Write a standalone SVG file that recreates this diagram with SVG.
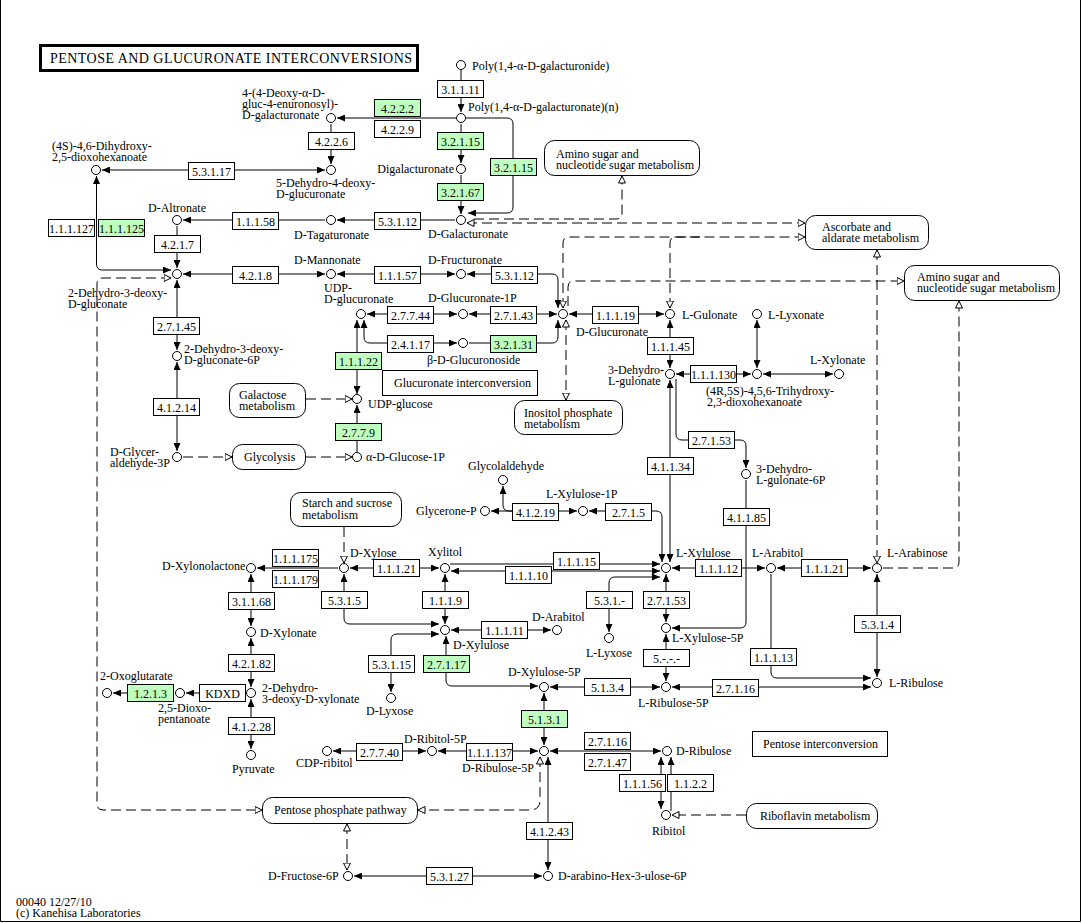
<svg xmlns="http://www.w3.org/2000/svg" width="1082" height="923" viewBox="0 0 1082 923">
<style>
text{font-family:"Liberation Serif","Times New Roman",serif;font-size:12px;fill:#000}
text.t{font-size:14px}
.e rect{fill:#fff;stroke:#000;stroke-width:1}
.e.g rect{fill:#bfffbf}
.e text{text-anchor:middle}
.c circle{fill:#fff;stroke:#000;stroke-width:1}
.m rect{fill:#fff;stroke:#000;stroke-width:1}
#connectors path{fill:none;stroke:#000;stroke-width:1}
#connectors .d{stroke-dasharray:10 5}
.b{marker-start:url(#a);marker-end:url(#a)}
.f{marker-end:url(#a)}
.ob{marker-start:url(#o);marker-end:url(#o)}
.of{marker-end:url(#o)}
.os{marker-start:url(#o)}
</style>
<defs>
<marker id="a" viewBox="0 0 8 7" refX="8" refY="3.5" markerWidth="8" markerHeight="7" markerUnits="userSpaceOnUse" orient="auto-start-reverse"><path d="M0,0L8,3.5L0,7z" fill="#000"/></marker>
<marker id="o" viewBox="0 0 8 8" refX="7.5" refY="4" markerWidth="8" markerHeight="8" markerUnits="userSpaceOnUse" orient="auto-start-reverse"><path d="M0.5,0.5L7.5,4L0.5,7.5z" fill="#fff" stroke="#000" stroke-width="1"/></marker>
</defs>
<rect x="0" y="0" width="1082" height="923" fill="#fff"/>
<path d="M0.5,0V921.5H1080.5V0" fill="none" stroke="#000" stroke-width="1"/>

<g id="title"><rect x="40.5" y="45.5" width="377" height="25" fill="#fff" stroke="#000" stroke-width="3"/><text class="t" x="50" y="63" textLength="362" lengthAdjust="spacing">PENTOSE AND GLUCURONATE INTERCONVERSIONS</text></g>
<g id="footer"><text x="16" y="906">00040 12/27/10<tspan x="16" dy="11">(c) Kanehisa Laboratories</tspan></text></g>

<g id="connectors">
<path class="f" d="M461,70V112"/>
<path class="f" d="M456,118H337"/>
<path class="f" d="M461,124V163"/>
<path class="f" d="M466,118H507Q513,118 513,124V207Q513,213 507,213H468"/>
<path class="f" d="M461,175V214"/>
<path class="f" d="M455,220H337"/>
<path class="f" d="M325,220H183"/>
<path class="f" d="M177,226V268"/>
<path class="f" d="M331,124V164"/>
<path class="b" d="M102,170H325"/>
<path class="b" d="M96.5,176V264Q96.5,270 102.5,270H171"/>
<path class="b" d="M183,274H325"/>
<path class="b" d="M337,274H455"/>
<path class="b" d="M467,274H552Q558,274 558,280V308"/>
<path class="b" d="M367,314H457"/>
<path class="b" d="M469,314H557"/>
<path class="b" d="M569,314H664"/>
<path class="b" d="M364,320V337Q364,343 370,343H457"/>
<path class="f" d="M469,343H552Q558,343 558,337V320"/>
<path class="b" d="M357,320V394"/>
<path class="f" d="M357,452V405"/>
<path class="b" d="M177,280V350"/>
<path class="b" d="M177,362V451"/>
<path class="b" d="M670,320V368"/>
<path class="b" d="M676,374H751"/>
<path class="b" d="M757,320V368"/>
<path class="b" d="M763,374H833"/>
<path class="b" d="M670,380V562"/>
<path class="f" d="M676,379V434Q676,440 682,440H740Q746,440 746,446V468"/>
<path class="f" d="M746,480V622Q746,628 740,628H672"/>
<path class="b" d="M491,511H577"/>
<path class="f" d="M512,511H509Q503,511 503,505V486"/>
<path class="b" d="M589,511H656Q662,511 662,517V562"/>
<path class="f" d="M338,568H257"/>
<path class="b" d="M350,568H439"/>
<path class="f" d="M450,564H660"/>
<path class="b" d="M451,571H660"/>
<path class="b" d="M660,577H615Q609,577 609,583V632"/>
<path class="b" d="M672,568H765"/>
<path class="b" d="M777,568H871"/>
<path class="f" d="M771,574V672Q771,678 777,678H871"/>
<path class="b" d="M877,574V677"/>
<path class="b" d="M672,687H871"/>
<path class="b" d="M666,574V622"/>
<path class="b" d="M666,634V681"/>
<path class="b" d="M550,687H660"/>
<path class="b" d="M344,574V618Q344,624 350,624H439"/>
<path class="b" d="M445,574V624"/>
<path class="b" d="M451,630H551"/>
<path class="b" d="M439,634H397Q391,634 391,640V692"/>
<path class="b" d="M446,636V680Q446,686 452,686H538"/>
<path class="b" d="M544,693V745"/>
<path class="b" d="M438,751H538"/>
<path class="b" d="M333,751H426"/>
<path class="b" d="M550,751H661"/>
<path class="b" d="M661,757V809"/>
<path class="f" d="M671,811V757"/>
<path class="b" d="M548,757V870"/>
<path class="b" d="M354,876H542"/>
<path class="b" d="M251,574V626"/>
<path class="b" d="M251,638V687"/>
<path class="f" d="M246,693H186"/>
<path class="f" d="M174,693H113"/>
<path class="b" d="M251,699V749"/>

<path class="d of" d="M474,219H616Q622,219 622,213V176"/>
<path class="d ob" d="M467,223H805"/>
<path class="d ob" d="M563,308V243Q563,237 569,237H805"/>
<path class="d os" d="M670,308V243Q670,237 676,237H700"/>
<path class="d of" d="M568,306V287Q568,281 574,281H904"/>
<path class="d ob" d="M566,320V400"/>
<path class="d ob" d="M877,250V563"/>
<path class="d of" d="M883,568H953Q959,568 959,562V301"/>
<path class="d of" d="M306,399H352"/>
<path class="d of" d="M183,457H232"/>
<path class="d of" d="M306,457H352"/>
<path class="d of" d="M344,527V563"/>
<path class="d ob" d="M171,278H103Q97,278 97,284V804Q97,810 103,810H262"/>
<path class="d ob" d="M540,757V800Q540,810 530,810H418"/>
<path class="d ob" d="M347,824V870"/>
<path class="d of" d="M746,815H672"/>
</g>

<g id="maps">
<g id="map-amino1" class="m"><rect x="544.5" y="140.5" width="155" height="35" rx="10"/><text x="556" y="158">Amino sugar and<tspan x="556" dy="11">nucleotide sugar metabolism</tspan></text></g>
<g id="map-ascorbate" class="m"><rect x="805.5" y="215.5" width="123" height="34" rx="10"/><text x="822" y="231">Ascorbate and<tspan x="822" dy="11">aldarate metabolism</tspan></text></g>
<g id="map-amino2" class="m"><rect x="904.5" y="265.5" width="155" height="35" rx="10"/><text x="917" y="281">Amino sugar and<tspan x="917" dy="11">nucleotide sugar metabolism</tspan></text></g>
<g id="map-galactose" class="m"><rect x="229.5" y="383.5" width="76" height="34" rx="10"/><text x="239" y="399">Galactose<tspan x="239" dy="11">metabolism</tspan></text></g>
<g id="label-glcAint" class="m"><rect x="382.5" y="370.5" width="155" height="25"/><text x="394" y="387">Glucuronate interconversion</text></g>
<g id="map-inositol" class="m"><rect x="514.5" y="400.5" width="108" height="34" rx="10"/><text x="524" y="417">Inositol phosphate<tspan x="524" dy="11">metabolism</tspan></text></g>
<g id="map-glycolysis" class="m"><rect x="232.5" y="444.5" width="73" height="25" rx="10"/><text x="244" y="461">Glycolysis</text></g>
<g id="map-starch" class="m"><rect x="290.5" y="492.5" width="111" height="34" rx="10"/><text x="302" y="507">Starch and sucrose<tspan x="302" dy="12">metabolism</tspan></text></g>
<g id="map-ppp" class="m"><rect x="262.5" y="797.5" width="155" height="26" rx="10"/><text x="274" y="814">Pentose phosphate pathway</text></g>
<g id="label-pentint" class="m"><rect x="752.5" y="731.5" width="135" height="25"/><text x="763" y="748">Pentose interconversion</text></g>
<g id="map-riboflavin" class="m"><rect x="746.5" y="803.5" width="131" height="25" rx="10"/><text x="760" y="820">Riboflavin metabolism</text></g>
</g>

<g id="enzymes">
<g id="e1" class="e"><rect x="437.5" y="80.5" width="46" height="17"/><text x="460.5" y="93.5">3.1.1.11</text></g>
<g id="e2" class="e g"><rect x="374.5" y="99.5" width="46" height="17"/><text x="397.5" y="112.5">4.2.2.2</text></g>
<g id="e3" class="e"><rect x="374.5" y="120.5" width="46" height="17"/><text x="397.5" y="133.5">4.2.2.9</text></g>
<g id="e4" class="e"><rect x="308.5" y="132.5" width="46" height="17"/><text x="331.5" y="145.5">4.2.2.6</text></g>
<g id="e5" class="e g"><rect x="437.5" y="132.5" width="46" height="17"/><text x="460.5" y="145.5">3.2.1.15</text></g>
<g id="e6" class="e g"><rect x="490.5" y="158.5" width="46" height="17"/><text x="513.5" y="171.5">3.2.1.15</text></g>
<g id="e7" class="e g"><rect x="437.5" y="183.5" width="46" height="17"/><text x="460.5" y="196.5">3.2.1.67</text></g>
<g id="e8" class="e"><rect x="188.5" y="162.5" width="46" height="17"/><text x="211.5" y="175.5">5.3.1.17</text></g>
<g id="e9" class="e"><rect x="232.5" y="212.5" width="46" height="17"/><text x="255.5" y="225.5">1.1.1.58</text></g>
<g id="e10" class="e"><rect x="374.5" y="212.5" width="46" height="17"/><text x="397.5" y="225.5">5.3.1.12</text></g>
<g id="e11" class="e"><rect x="48.5" y="219.5" width="46" height="17"/><text x="71.5" y="232.5">1.1.1.127</text></g>
<g id="e12" class="e g"><rect x="98.5" y="219.5" width="46" height="17"/><text x="121.5" y="232.5">1.1.1.125</text></g>
<g id="e13" class="e"><rect x="154.5" y="235.5" width="46" height="17"/><text x="177.5" y="248.5">4.2.1.7</text></g>
<g id="e14" class="e"><rect x="232.5" y="266.5" width="46" height="17"/><text x="255.5" y="279.5">4.2.1.8</text></g>
<g id="e15" class="e"><rect x="374.5" y="266.5" width="46" height="17"/><text x="397.5" y="279.5">1.1.1.57</text></g>
<g id="e16" class="e"><rect x="491.5" y="266.5" width="46" height="17"/><text x="514.5" y="279.5">5.3.1.12</text></g>
<g id="e17" class="e"><rect x="387.5" y="306.5" width="46" height="17"/><text x="410.5" y="319.5">2.7.7.44</text></g>
<g id="e18" class="e"><rect x="490.5" y="306.5" width="46" height="17"/><text x="513.5" y="319.5">2.7.1.43</text></g>
<g id="e19" class="e"><rect x="592.5" y="306.5" width="46" height="17"/><text x="615.5" y="319.5">1.1.1.19</text></g>
<g id="e20" class="e"><rect x="387.5" y="335.5" width="46" height="17"/><text x="410.5" y="348.5">2.4.1.17</text></g>
<g id="e21" class="e g"><rect x="490.5" y="335.5" width="46" height="17"/><text x="513.5" y="348.5">3.2.1.31</text></g>
<g id="e22" class="e g"><rect x="335.5" y="352.5" width="46" height="17"/><text x="358.5" y="365.5">1.1.1.22</text></g>
<g id="e23" class="e g"><rect x="335.5" y="423.5" width="46" height="17"/><text x="358.5" y="436.5">2.7.7.9</text></g>
<g id="e24" class="e"><rect x="153.5" y="317.5" width="46" height="17"/><text x="176.5" y="330.5">2.7.1.45</text></g>
<g id="e25" class="e"><rect x="153.5" y="398.5" width="46" height="17"/><text x="176.5" y="411.5">4.1.2.14</text></g>
<g id="e26" class="e"><rect x="647.5" y="337.5" width="46" height="17"/><text x="670.5" y="350.5">1.1.1.45</text></g>
<g id="e27" class="e"><rect x="690.5" y="365.5" width="46" height="17"/><text x="713.5" y="378.5">1.1.1.130</text></g>
<g id="e28" class="e"><rect x="688.5" y="431.5" width="46" height="17"/><text x="711.5" y="444.5">2.7.1.53</text></g>
<g id="e29" class="e"><rect x="647.5" y="457.5" width="46" height="17"/><text x="670.5" y="470.5">4.1.1.34</text></g>
<g id="e30" class="e"><rect x="723.5" y="508.5" width="46" height="17"/><text x="746.5" y="521.5">4.1.1.85</text></g>
<g id="e31" class="e"><rect x="605.5" y="503.5" width="46" height="17"/><text x="628.5" y="516.5">2.7.1.5</text></g>
<g id="e32" class="e"><rect x="512.5" y="503.5" width="46" height="17"/><text x="535.5" y="516.5">4.1.2.19</text></g>
<g id="e33" class="e"><rect x="272.5" y="549.5" width="46" height="17"/><text x="295.5" y="562.5">1.1.1.175</text></g>
<g id="e34" class="e"><rect x="272.5" y="570.5" width="46" height="17"/><text x="295.5" y="583.5">1.1.1.179</text></g>
<g id="e35" class="e"><rect x="373.5" y="559.5" width="46" height="17"/><text x="396.5" y="572.5">1.1.1.21</text></g>
<g id="e36" class="e"><rect x="553.5" y="552.5" width="46" height="17"/><text x="576.5" y="565.5">1.1.1.15</text></g>
<g id="e37" class="e"><rect x="505.5" y="566.5" width="46" height="17"/><text x="528.5" y="579.5">1.1.1.10</text></g>
<g id="e38" class="e"><rect x="695.5" y="559.5" width="46" height="17"/><text x="718.5" y="572.5">1.1.1.12</text></g>
<g id="e39" class="e"><rect x="801.5" y="559.5" width="46" height="17"/><text x="824.5" y="572.5">1.1.1.21</text></g>
<g id="e40" class="e"><rect x="228.5" y="592.5" width="46" height="17"/><text x="251.5" y="605.5">3.1.1.68</text></g>
<g id="e41" class="e"><rect x="321.5" y="591.5" width="46" height="17"/><text x="344.5" y="604.5">5.3.1.5</text></g>
<g id="e42" class="e"><rect x="422.5" y="591.5" width="46" height="17"/><text x="445.5" y="604.5">1.1.1.9</text></g>
<g id="e43" class="e"><rect x="481.5" y="621.5" width="46" height="17"/><text x="504.5" y="634.5">1.1.1.11</text></g>
<g id="e44" class="e"><rect x="586.5" y="591.5" width="46" height="17"/><text x="609.5" y="604.5">5.3.1.-</text></g>
<g id="e45" class="e"><rect x="643.5" y="591.5" width="46" height="17"/><text x="666.5" y="604.5">2.7.1.53</text></g>
<g id="e46" class="e"><rect x="643.5" y="649.5" width="46" height="17"/><text x="666.5" y="662.5">5.-.-.-</text></g>
<g id="e47" class="e"><rect x="750.5" y="648.5" width="46" height="17"/><text x="773.5" y="661.5">1.1.1.13</text></g>
<g id="e48" class="e"><rect x="854.5" y="615.5" width="46" height="17"/><text x="877.5" y="628.5">5.3.1.4</text></g>
<g id="e49" class="e"><rect x="712.5" y="679.5" width="46" height="17"/><text x="735.5" y="692.5">2.7.1.16</text></g>
<g id="e50" class="e"><rect x="584.5" y="678.5" width="46" height="17"/><text x="607.5" y="691.5">5.1.3.4</text></g>
<g id="e51" class="e"><rect x="228.5" y="654.5" width="46" height="17"/><text x="251.5" y="667.5">4.2.1.82</text></g>
<g id="e52" class="e"><rect x="199.5" y="684.5" width="46" height="17"/><text x="222.5" y="697.5">KDXD</text></g>
<g id="e53" class="e g"><rect x="127.5" y="684.5" width="46" height="17"/><text x="150.5" y="697.5">1.2.1.3</text></g>
<g id="e54" class="e"><rect x="228.5" y="717.5" width="46" height="17"/><text x="251.5" y="730.5">4.1.2.28</text></g>
<g id="e55" class="e"><rect x="368.5" y="655.5" width="46" height="17"/><text x="391.5" y="668.5">5.3.1.15</text></g>
<g id="e56" class="e g"><rect x="423.5" y="655.5" width="46" height="17"/><text x="446.5" y="668.5">2.7.1.17</text></g>
<g id="e57" class="e g"><rect x="521.5" y="710.5" width="46" height="17"/><text x="544.5" y="723.5">5.1.3.1</text></g>
<g id="e58" class="e"><rect x="356.5" y="743.5" width="46" height="17"/><text x="379.5" y="756.5">2.7.7.40</text></g>
<g id="e59" class="e"><rect x="466.5" y="743.5" width="46" height="17"/><text x="489.5" y="756.5">1.1.1.137</text></g>
<g id="e60" class="e"><rect x="584.5" y="732.5" width="46" height="17"/><text x="607.5" y="745.5">2.7.1.16</text></g>
<g id="e61" class="e"><rect x="584.5" y="753.5" width="46" height="17"/><text x="607.5" y="766.5">2.7.1.47</text></g>
<g id="e62" class="e"><rect x="619.5" y="774.5" width="46" height="17"/><text x="642.5" y="787.5">1.1.1.56</text></g>
<g id="e63" class="e"><rect x="667.5" y="774.5" width="46" height="17"/><text x="690.5" y="787.5">1.1.2.2</text></g>
<g id="e64" class="e"><rect x="526.5" y="822.5" width="46" height="17"/><text x="549.5" y="835.5">4.1.2.43</text></g>
<g id="e65" class="e"><rect x="426.5" y="867.5" width="46" height="17"/><text x="449.5" y="880.5">5.3.1.27</text></g>
</g>

<g id="compounds">
<g id="poly1" class="c"><circle cx="461" cy="65" r="4.5"/><text x="472" y="70">Poly(1,4-α-D-galacturonide)</text></g>
<g id="polyn" class="c"><circle cx="461" cy="118" r="4.5"/><text x="468" y="111">Poly(1,4-α-D-galacturonate)(n)</text></g>
<g id="diga" class="c"><circle cx="461" cy="169" r="4.5"/><text x="454" y="173" text-anchor="end">Digalacturonate</text></g>
<g id="dgala" class="c"><circle cx="461" cy="220" r="4.5"/><text x="428" y="238">D-Galacturonate</text></g>
<g id="deoxygal" class="c"><circle cx="331" cy="118" r="4.5"/><text x="242" y="97">4-(4-Deoxy-α-D-<tspan x="242" dy="11">gluc-4-enuronosyl)-</tspan><tspan x="242" dy="11">D-galacturonate</tspan></text></g>
<g id="dehydro4" class="c"><circle cx="331" cy="170" r="4.5"/><text x="276" y="187">5-Dehydro-4-deoxy-<tspan x="276" dy="11">D-glucuronate</tspan></text></g>
<g id="s46" class="c"><circle cx="96" cy="170" r="4.5"/><text x="52" y="150">(4S)-4,6-Dihydroxy-<tspan x="52" dy="11">2,5-dioxohexanoate</tspan></text></g>
<g id="altr" class="c"><circle cx="177" cy="220" r="4.5"/><text x="148" y="212">D-Altronate</text></g>
<g id="taga" class="c"><circle cx="331" cy="220" r="4.5"/><text x="294" y="239">D-Tagaturonate</text></g>
<g id="kdg" class="c"><circle cx="177" cy="274" r="4.5"/><text x="68" y="297">2-Dehydro-3-deoxy-<tspan x="68" dy="11">D-gluconate</tspan></text></g>
<g id="mann" class="c"><circle cx="331" cy="274" r="4.5"/><text x="294" y="264">D-Mannonate</text></g>
<g id="fruc" class="c"><circle cx="461" cy="274" r="4.5"/><text x="428" y="264">D-Fructuronate</text></g>
<g id="udpglca" class="c"><circle cx="361" cy="314" r="4.5"/><text x="324" y="292">UDP-<tspan x="324" dy="11">D-glucuronate</tspan></text></g>
<g id="glca1p" class="c"><circle cx="463" cy="314" r="4.5"/><text x="428" y="302">D-Glucuronate-1P</text></g>
<g id="glca" class="c"><circle cx="563" cy="314" r="4.5"/><text x="576" y="336">D-Glucuronate</text></g>
<g id="gulon" class="c"><circle cx="670" cy="314" r="4.5"/><text x="682" y="319">L-Gulonate</text></g>
<g id="lyxon" class="c"><circle cx="757" cy="314" r="4.5"/><text x="768" y="319">L-Lyxonate</text></g>
<g id="dhgul" class="c"><circle cx="670" cy="374" r="4.5"/><text x="608" y="374">3-Dehydro-<tspan x="608" dy="11">L-gulonate</tspan></text></g>
<g id="trihy" class="c"><circle cx="757" cy="374" r="4.5"/><text x="706" y="395">(4R,5S)-4,5,6-Trihydroxy-<tspan x="707" dy="11">2,3-dioxohexanoate</tspan></text></g>
<g id="xylon" class="c"><circle cx="839" cy="374" r="4.5"/><text x="810" y="364">L-Xylonate</text></g>
<g id="glcaside" class="c"><circle cx="463" cy="343" r="4.5"/><text x="427" y="364">β-D-Glucuronoside</text></g>
<g id="kdg6p" class="c"><circle cx="177" cy="356" r="4.5"/><text x="184" y="353">2-Dehydro-3-deoxy-<tspan x="184" dy="11">D-gluconate-6P</tspan></text></g>
<g id="udpglc" class="c"><circle cx="357" cy="399" r="4.5"/><text x="368" y="408">UDP-glucose</text></g>
<g id="glc1p" class="c"><circle cx="357" cy="457" r="4.5"/><text x="366" y="461">α-D-Glucose-1P</text></g>
<g id="gap" class="c"><circle cx="177" cy="457" r="4.5"/><text x="110" y="456">D-Glycer-<tspan x="110" dy="11">aldehyde-3P</tspan></text></g>
<g id="dhgul6p" class="c"><circle cx="746" cy="474" r="4.5"/><text x="756" y="473">3-Dehydro-<tspan x="756" dy="11">L-gulonate-6P</tspan></text></g>
<g id="glyald" class="c"><circle cx="503" cy="480" r="4.5"/><text x="468" y="470">Glycolaldehyde</text></g>
<g id="dhap" class="c"><circle cx="485" cy="511" r="4.5"/><text x="416" y="515">Glycerone-P</text></g>
<g id="lxu1p" class="c"><circle cx="583" cy="511" r="4.5"/><text x="546" y="498">L-Xylulose-1P</text></g>
<g id="xylonlac" class="c"><circle cx="251" cy="568" r="4.5"/><text x="162" y="570">D-Xylonolactone</text></g>
<g id="dxyl" class="c"><circle cx="344" cy="568" r="4.5"/><text x="350" y="557">D-Xylose</text></g>
<g id="xylitol" class="c"><circle cx="445" cy="568" r="4.5"/><text x="428" y="556">Xylitol</text></g>
<g id="lxu" class="c"><circle cx="666" cy="568" r="4.5"/><text x="676" y="557">L-Xylulose</text></g>
<g id="larabitol" class="c"><circle cx="771" cy="568" r="4.5"/><text x="752" y="557">L-Arabitol</text></g>
<g id="lara" class="c"><circle cx="877" cy="568" r="4.5"/><text x="887" y="557">L-Arabinose</text></g>
<g id="dxylonate" class="c"><circle cx="251" cy="632" r="4.5"/><text x="260" y="637">D-Xylonate</text></g>
<g id="dxu" class="c"><circle cx="445" cy="630" r="4.5"/><text x="453" y="649">D-Xylulose</text></g>
<g id="darabitol" class="c"><circle cx="557" cy="630" r="4.5"/><text x="532" y="621">D-Arabitol</text></g>
<g id="llyx" class="c"><circle cx="609" cy="638" r="4.5"/><text x="586" y="657">L-Lyxose</text></g>
<g id="lxu5p" class="c"><circle cx="666" cy="628" r="4.5"/><text x="672" y="642">L-Xylulose-5P</text></g>
<g id="oxog" class="c"><circle cx="107" cy="693" r="4.5"/><text x="100" y="680">2-Oxoglutarate</text></g>
<g id="dioxo" class="c"><circle cx="180" cy="693" r="4.5"/><text x="158" y="712">2,5-Dioxo-<tspan x="158" dy="11">pentanoate</tspan></text></g>
<g id="kdx" class="c"><circle cx="251" cy="693" r="4.5"/><text x="262" y="692">2-Dehydro-<tspan x="262" dy="11">3-deoxy-D-xylonate</tspan></text></g>
<g id="dlyx" class="c"><circle cx="391" cy="698" r="4.5"/><text x="366" y="715">D-Lyxose</text></g>
<g id="dxu5p" class="c"><circle cx="544" cy="687" r="4.5"/><text x="508" y="676">D-Xylulose-5P</text></g>
<g id="lru5p" class="c"><circle cx="666" cy="687" r="4.5"/><text x="638" y="707">L-Ribulose-5P</text></g>
<g id="lru" class="c"><circle cx="877" cy="683" r="4.5"/><text x="889" y="687">L-Ribulose</text></g>
<g id="pyr" class="c"><circle cx="251" cy="755" r="4.5"/><text x="232" y="773">Pyruvate</text></g>
<g id="cdprib" class="c"><circle cx="327" cy="751" r="4.5"/><text x="296" y="767">CDP-ribitol</text></g>
<g id="drib5p" class="c"><circle cx="432" cy="751" r="4.5"/><text x="404" y="743">D-Ribitol-5P</text></g>
<g id="dru5p" class="c"><circle cx="544" cy="751" r="4.5"/><text x="462" y="772">D-Ribulose-5P</text></g>
<g id="dru" class="c"><circle cx="667" cy="751" r="4.5"/><text x="676" y="755">D-Ribulose</text></g>
<g id="ribitol" class="c"><circle cx="666" cy="815" r="4.5"/><text x="652" y="835">Ribitol</text></g>
<g id="f6p" class="c"><circle cx="348" cy="876" r="4.5"/><text x="268" y="880">D-Fructose-6P</text></g>
<g id="hex" class="c"><circle cx="548" cy="876" r="4.5"/><text x="558" y="880">D-arabino-Hex-3-ulose-6P</text></g>
</g>
</svg>
